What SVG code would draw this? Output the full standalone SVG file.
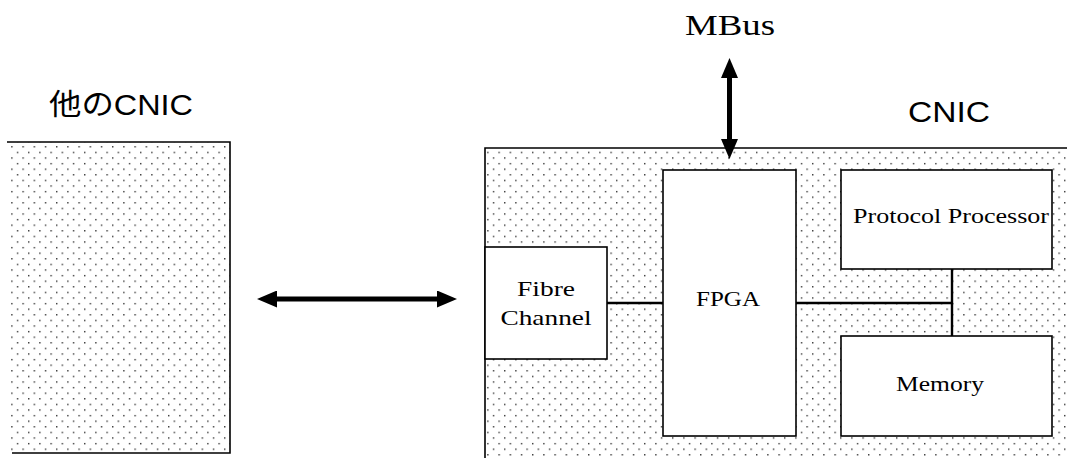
<svg xmlns="http://www.w3.org/2000/svg" width="1067" height="458" viewBox="0 0 1067 458">
<defs>
  <pattern id="dots" x="0" y="0.5" width="11.2" height="11.2" patternUnits="userSpaceOnUse">
    <rect x="0" y="0" width="1.4" height="1.4" fill="#333"/>
    <rect x="5.6" y="5.6" width="1.4" height="1.4" fill="#333"/>
  </pattern>
  <marker id="ah" viewBox="0 0 20 17" refX="0" refY="8.5" markerWidth="20" markerHeight="17" markerUnits="userSpaceOnUse" orient="auto-start-reverse">
    <path d="M0,0 L20,8.5 L0,17 Z" fill="#000"/>
  </marker>
  <style>
    .box { fill: #fff; stroke: #000; stroke-width: 1.6; }
    .lbl { font-family: "Liberation Serif", "DejaVu Serif", serif; fill: #000; text-anchor: middle; }
    .sans { font-family: "Liberation Sans", "Noto Sans CJK JP", sans-serif; fill: #000; }
    .conn { stroke: #000; stroke-width: 2.4; fill: none; }
    .arr { stroke: #000; stroke-width: 5; fill: none; }
  </style>
</defs>

<rect x="0" y="0" width="1067" height="458" fill="#fff"/>

<g id="other-cnic">
  <rect x="8" y="142" width="222" height="311" fill="url(#dots)"/>
  <path d="M7,142 H230 V453 H12" fill="none" stroke="#000" stroke-width="1.6"/>
  <text class="sans" x="49" y="115" font-size="29" textLength="144" lengthAdjust="spacingAndGlyphs">他のCNIC</text>
</g>

<g id="cnic">
  <path d="M485,470 V148 H1075" fill="none" stroke="#000" stroke-width="1.6"/>
  <rect x="485.8" y="148.8" width="590" height="320" fill="url(#dots)"/>
  <text class="sans" x="908" y="122" font-size="30" textLength="82" lengthAdjust="spacingAndGlyphs">CNIC</text>
</g>

<g id="mbus">
  <text class="lbl" x="730" y="35" font-size="30" textLength="90" lengthAdjust="spacingAndGlyphs">MBus</text>
</g>

<g id="fibre-channel">
  <rect class="box" x="485" y="247" width="122" height="112"/>
  <text class="lbl" x="546" y="296" font-size="22" textLength="58" lengthAdjust="spacingAndGlyphs">Fibre</text>
  <text class="lbl" x="546" y="325" font-size="22" textLength="91" lengthAdjust="spacingAndGlyphs">Channel</text>
</g>

<g id="fpga">
  <rect class="box" x="663" y="170" width="133" height="266"/>
  <text class="lbl" x="728" y="306" font-size="22" textLength="64" lengthAdjust="spacingAndGlyphs">FPGA</text>
</g>

<g id="protocol-processor">
  <rect class="box" x="841" y="170" width="211" height="99"/>
  <text class="lbl" x="951" y="223" font-size="22" textLength="196" lengthAdjust="spacingAndGlyphs">Protocol Processor</text>
</g>

<g id="memory">
  <rect class="box" x="841" y="336" width="211" height="100"/>
  <text class="lbl" x="940" y="391" font-size="22" textLength="88" lengthAdjust="spacingAndGlyphs">Memory</text>
</g>

<g id="connectors">
  <line class="conn" x1="607" y1="303" x2="663" y2="303"/>
  <line class="conn" x1="796" y1="303" x2="952" y2="303"/>
  <line class="conn" x1="952" y1="269" x2="952" y2="336"/>
  <line class="arr" x1="277" y1="299" x2="437" y2="299" marker-start="url(#ah)" marker-end="url(#ah)"/>
  <line class="arr" x1="729.5" y1="78" x2="729.5" y2="139" marker-start="url(#ah)" marker-end="url(#ah)"/>
</g>
</svg>
